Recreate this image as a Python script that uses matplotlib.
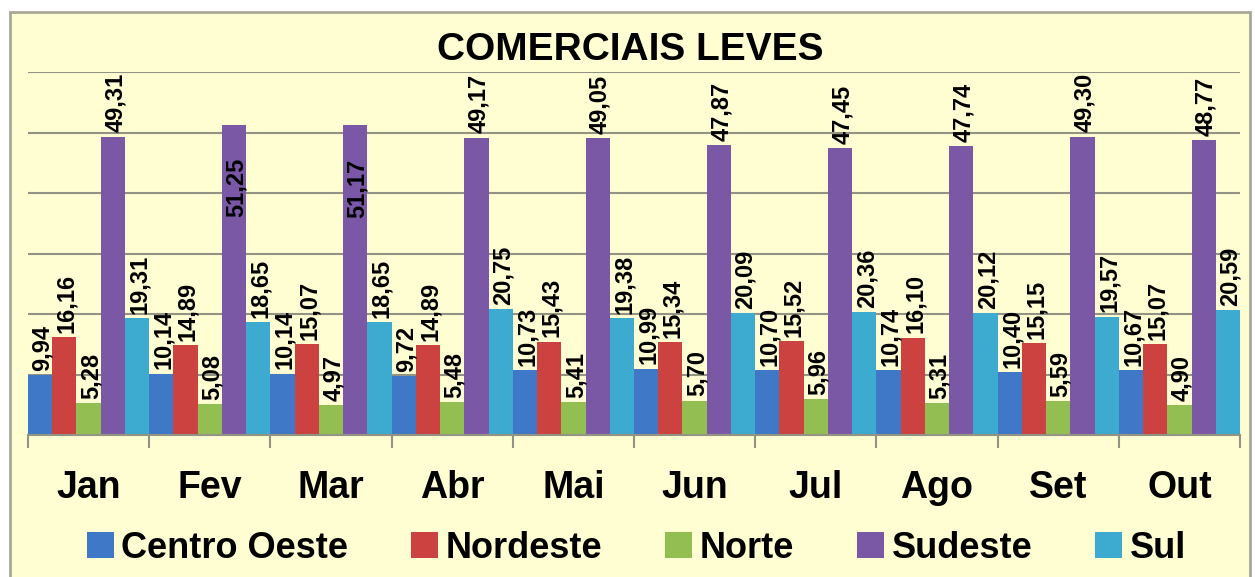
import numpy as np
import matplotlib
matplotlib.use('Agg')
import matplotlib.pyplot as plt
from matplotlib.patches import Rectangle, Patch

plt.rcParams['font.family'] = ['Liberation Sans', 'DejaVu Sans']
plt.rcParams['font.weight'] = 'bold'

months = ['Jan', 'Fev', 'Mar', 'Abr', 'Mai', 'Jun', 'Jul', 'Ago', 'Set', 'Out']
regions = ['Centro Oeste', 'Nordeste', 'Norte', 'Sudeste', 'Sul']

centro_oeste = [9.94, 10.14, 10.14, 9.72, 10.73, 10.99, 10.70, 10.74, 10.40, 10.67]
nordeste = [16.16, 14.89, 15.07, 14.89, 15.43, 15.34, 15.52, 16.10, 15.15, 15.07]
norte = [5.28, 5.08, 4.97, 5.48, 5.41, 5.70, 5.96, 5.31, 5.59, 4.90]
sudeste = [49.31, 51.25, 51.17, 49.17, 49.05, 47.87, 47.45, 47.74, 49.30, 48.77]
sul = [19.31, 18.65, 18.65, 20.75, 19.38, 20.09, 20.36, 20.12, 19.57, 20.59]

colors = ['#3F78C6', '#CC4240', '#93BE52', '#7B58A6', '#3DABCF']
bg = '#FFFDD2'

series = [centro_oeste, nordeste, norte, sudeste, sul]

fig = plt.figure(figsize=(12.55, 5.77), dpi=100)
fig.patch.set_facecolor('white')
# outer frame of the chart
fig.patches.append(Rectangle((10 / 1255, -0.01), 1240 / 1255, 1 - 12 / 577 + 0.01,
                             transform=fig.transFigure, facecolor=bg,
                             edgecolor='#A8A898', linewidth=2, zorder=-5))

ax = fig.add_axes([28 / 1255, 1 - 435 / 577, 1212 / 1255, 363 / 577])
ax.set_facecolor('none')
ax.set_zorder(2)

x = np.arange(len(months))
w = 0.2
for j, (vals, c) in enumerate(zip(series, colors)):
    left = x - 0.5 + j * w
    ax.bar(left, vals, width=w, align='edge', color=c, zorder=2)
    for xi, v in zip(left, vals):
        txt = f'{v:.2f}'.replace('.', ',')
        if v > 50:
            # too tall: Excel put these inside the bar
            ax.text(xi + w / 2 + 0.02, v - 5.5, txt, rotation=90, ha='center',
                    va='top', fontsize=17, fontweight='bold', zorder=3)
        else:
            ax.text(xi + w / 2 + 0.02, v + 0.7, txt, rotation=90, ha='center',
                    va='bottom', fontsize=17, fontweight='bold', zorder=3)

ax.set_xlim(-0.5, len(months) - 0.5)
ax.set_ylim(0, 60)
ax.set_yticks(np.arange(0, 61, 10))
ax.yaxis.grid(True, color='#939384', linewidth=1.5, zorder=1)
ax.set_axisbelow(True)
ax.tick_params(axis='y', left=False, labelleft=False)
for s in ['top', 'right', 'left']:
    ax.spines[s].set_visible(False)
ax.spines['bottom'].set_color('#939384')
ax.spines['bottom'].set_linewidth(1.5)

ax.set_xticks(x)
ax.set_xticklabels(months, fontsize=27, fontweight='bold')
ax.set_xticks(np.arange(-0.5, len(months), 1), minor=True)
ax.tick_params(axis='x', which='major', length=0, pad=25)
ax.tick_params(axis='x', which='minor', length=9, width=1.5, color='#939384')

fig.text(0.502, 1 - 50 / 577, 'COMERCIAIS LEVES', ha='center', va='center',
         fontsize=28, fontweight='bold')

handles = [Patch(facecolor=c, label=r) for c, r in zip(colors, regions)]
fig.legend(handles=handles, loc='center', bbox_to_anchor=(0.507, 1 - 548 / 577),
           ncol=5, frameon=False, handlelength=0.75,
           handleheight=0.75, handletextpad=0.2, columnspacing=1.75,
           prop={'size': 26, 'weight': 'bold'})

fig.savefig('out.png', dpi=100, facecolor='white')
